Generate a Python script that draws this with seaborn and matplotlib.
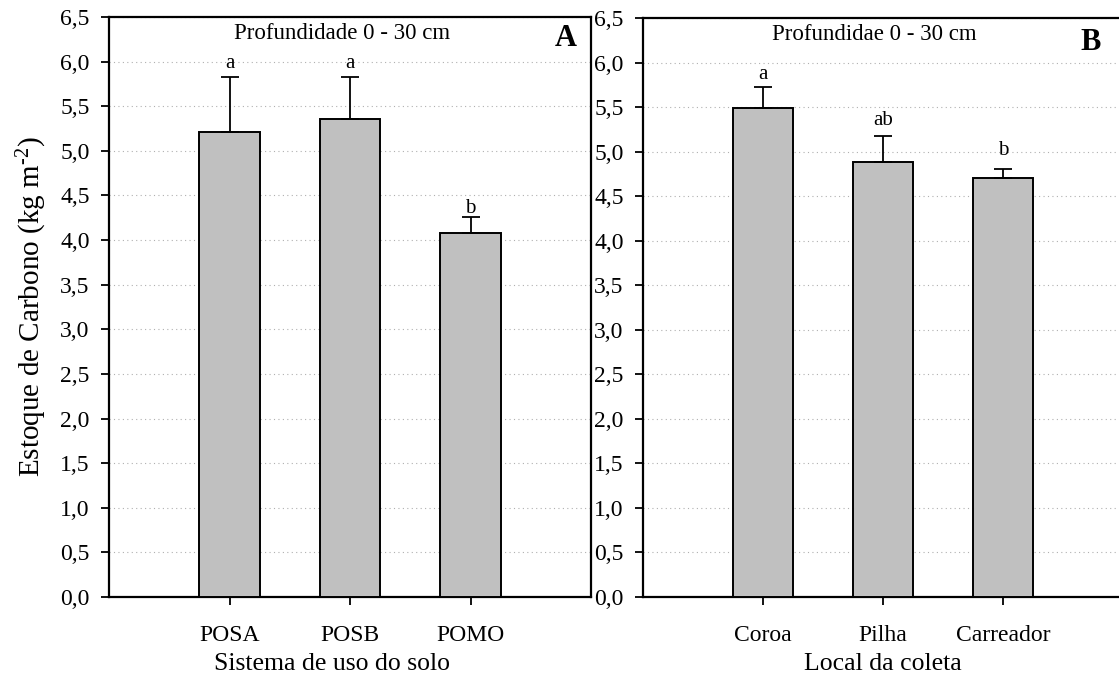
import numpy as np
import pandas as pd
import matplotlib
matplotlib.use("Agg")
import matplotlib.pyplot as plt
import seaborn as sns

# ---- data ----
sistemas = ["POSA", "POSB", "POMO"]
estoque_a = [5.21, 5.36, 4.08]
erro_a = [0.62, 0.47, 0.18]
letras_a = ["a", "a", "b"]

locais = ["Coroa", "Pilha", "Carreador"]
estoque_b = [5.49, 4.88, 4.70]
erro_b = [0.23, 0.29, 0.11]
letras_b = ["a", "ab", "b"]

yticks = [0.0, 0.5, 1.0, 1.5, 2.0, 2.5, 3.0, 3.5, 4.0, 4.5, 5.0, 5.5, 6.0, 6.5]

# vertical gap (points) between the error-bar cap and the letter baseline
gap_a = [6.5, 6.5, 3.0]
gap_b = [5.8, 8.6, 10.0]

sns.set_style("white")
plt.rcParams["font.family"] = ["Liberation Serif", "DejaVu Serif"]
plt.rcParams["mathtext.fontset"] = "custom"
plt.rcParams["mathtext.rm"] = "Liberation Serif"
plt.rcParams["mathtext.it"] = "Liberation Serif:italic"
for k in ["text.color", "axes.labelcolor", "xtick.color", "ytick.color"]:
    plt.rcParams[k] = "black"

W, H = 1119, 675
fig = plt.figure(figsize=(W / 100, H / 100), dpi=100)

def px_axes(x0, x1, y0, y1):
    return fig.add_axes([x0 / W, 1 - y1 / H, (x1 - x0) / W, (y1 - y0) / H])

axA = px_axes(109, 591, 17, 597)
axB = px_axes(643, 1123, 18, 597)

def draw(ax, cats, vals, errs, letters, gaps, xlabel, title, tag, tagy):
    df = pd.DataFrame({"cat": cats, "val": vals})
    sns.barplot(data=df, x="cat", y="val", order=cats, color="#c0c0c0",
                width=0.5, edgecolor="black", linewidth=1.4, errorbar=None,
                saturation=1, ax=ax, zorder=3)
    xs = np.arange(len(cats))
    ax.errorbar(xs, vals, yerr=[np.zeros(len(errs)), errs], fmt="none",
                ecolor="black", elinewidth=1.3, capsize=6.5, capthick=1.3,
                zorder=4)
    for x, v, e, l, g in zip(xs, vals, errs, letters, gaps):
        ax.annotate(l, (x, v + e), xytext=(0, g), textcoords="offset points",
                    ha="center", va="baseline", fontsize=15)
    ax.set_xlim(-1, 3)
    ax.set_ylim(0, 6.5)
    ax.set_yticks(yticks)
    ax.set_yticklabels([f"{t:.1f}".replace(".", ",") for t in yticks], fontsize=17)
    ax.tick_params(axis="x", labelsize=17, length=6, width=1.3, direction="out",
                   bottom=True, pad=14)
    ax.tick_params(axis="y", length=6, width=1.3, direction="out", left=True, pad=8)
    ax.yaxis.grid(True, linestyle=(0, (1, 3)), color="#b0b0b0", linewidth=0.8, zorder=0)
    ax.set_axisbelow(True)
    ax.set_xlabel(xlabel, fontsize=18.5, labelpad=5)
    ax.set_ylabel("")
    for s in ax.spines.values():
        s.set_linewidth(1.6)
        s.set_color("black")
    ax.text(0.93, 6.32, title, ha="center", va="center", fontsize=16.5)
    ax.text(tag[0], tagy, tag[1], ha="center", va="center", fontsize=22,
            fontweight="bold")

draw(axA, sistemas, estoque_a, erro_a, letras_a, gap_a, "Sistema de uso do solo",
     "Profundidade 0 - 30 cm", (2.79, "A"), 6.26)
draw(axB, locais, estoque_b, erro_b, letras_b, gap_b, "Local da coleta",
     "Profundidae 0 - 30 cm", (2.73, "B"), 6.22)

axA.xaxis.label.set_x(0.463)
axA.set_ylabel(r"Estoque de Carbono (kg m$^{\text{-2}}$)", fontsize=21, labelpad=8)

fig.savefig("out.png", dpi=100)
